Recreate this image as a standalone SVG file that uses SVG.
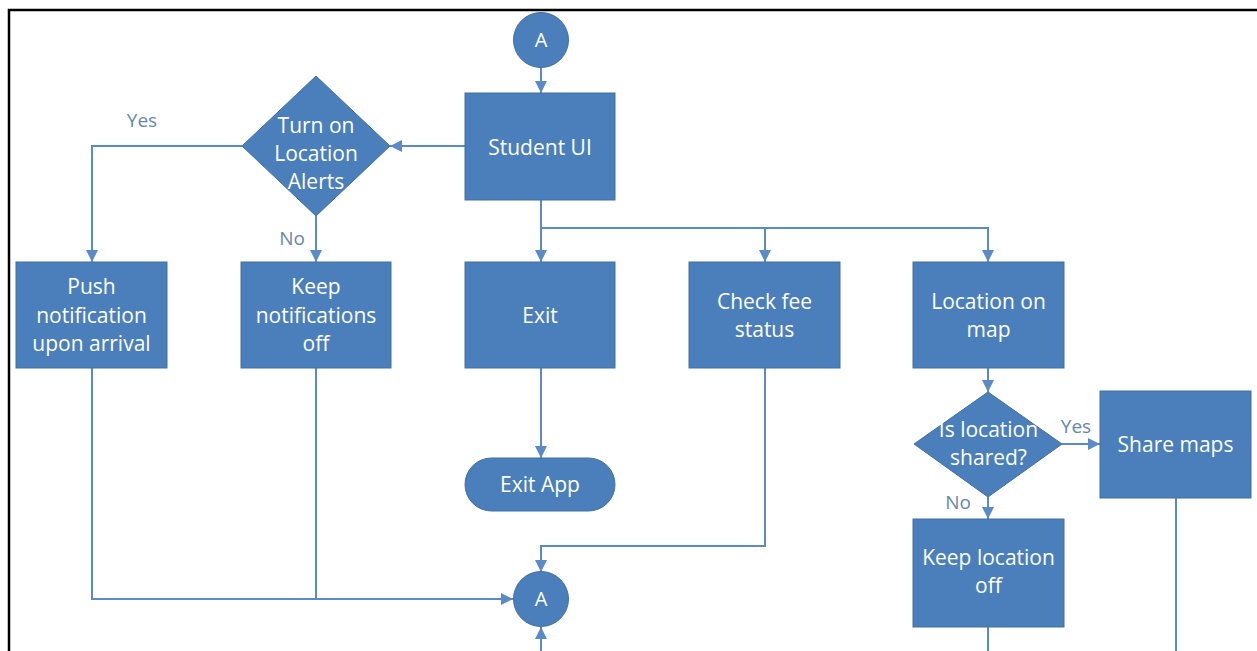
<svg xmlns="http://www.w3.org/2000/svg" width="1257" height="651" viewBox="0 0 1257 651">
<style>
.n{fill:#4a7fbc;stroke:#41709f;stroke-width:1}
.t{font-family:"Open Sans","Noto Sans",sans-serif;font-size:21px;fill:#ffffff;text-anchor:middle}
.a{font-family:"Open Sans","Noto Sans",sans-serif;font-size:20px;fill:#ffffff;text-anchor:middle}
.l{font-family:"Open Sans","Noto Sans",sans-serif;font-size:19px;fill:#6787b0;text-anchor:middle}
.c{fill:none;stroke:#5b8bc6;stroke-width:2}
</style>
<defs>
<marker id="ah" viewBox="0 0 10 10" refX="10" refY="5" markerWidth="6" markerHeight="6" orient="auto" markerUnits="strokeWidth">
<path d="M0,0 L10,5 L0,10 z" fill="#5b8bc6"/>
</marker>
</defs>
<rect x="0" y="0" width="1257" height="651" fill="#ffffff"/>
<path d="M9,651 L9,10 L1257,10" fill="none" stroke="#000000" stroke-width="2.5"/>

<g id="connectors">
<path class="c" d="M541,67 L541,93" marker-end="url(#ah)"/>
<path class="c" d="M465,146 L390,146" marker-end="url(#ah)"/>
<path class="c" d="M242,146 L92,146 L92,262" marker-end="url(#ah)"/>
<path class="c" d="M316,216 L316,262" marker-end="url(#ah)"/>
<path class="c" d="M541,200 L541,262" marker-end="url(#ah)"/>
<path class="c" d="M541,228 L765,228 L765,262" marker-end="url(#ah)"/>
<path class="c" d="M765,228 L988,228 L988,262" marker-end="url(#ah)"/>
<path class="c" d="M541,368 L541,458" marker-end="url(#ah)"/>
<path class="c" d="M988,368 L988,392" marker-end="url(#ah)"/>
<path class="c" d="M1062,444 L1100,444" marker-end="url(#ah)"/>
<path class="c" d="M988,497 L988,519" marker-end="url(#ah)"/>
<path class="c" d="M92,368 L92,599 L513,599" marker-end="url(#ah)"/>
<path class="c" d="M316,368 L316,599"/>
<path class="c" d="M765,368 L765,546 L541,546 L541,572" marker-end="url(#ah)"/>
<path class="c" d="M541,651 L541,627" marker-end="url(#ah)"/>
<path class="c" d="M988,627 L988,651"/>
<path class="c" d="M1176,498 L1176,651"/>
<text class="l" x="142" y="127">Yes</text>
<text class="l" x="292" y="245">No</text>
<text class="l" x="1076" y="433">Yes</text>
<text class="l" x="958" y="509">No</text>
</g>

<g id="a-top">
<circle class="n" cx="541" cy="40" r="27.5"/>
<text class="a" x="541" y="47">A</text>
</g>
<g id="student-ui">
<rect class="n" x="465" y="93" width="150" height="107"/>
<text class="t" x="540" y="155">Student UI</text>
</g>
<g id="turn-on-alerts">
<polygon class="n" points="316,76 390,146 316,216 242,146"/>
<text class="t" x="316" y="133">Turn on</text>
<text class="t" x="316" y="161">Location</text>
<text class="t" x="316" y="189">Alerts</text>
</g>
<g id="push-notification">
<rect class="n" x="16" y="262" width="151" height="106"/>
<text class="t" x="91.5" y="294">Push</text>
<text class="t" x="91.5" y="322.5">notification</text>
<text class="t" x="91.5" y="350.5">upon arrival</text>
</g>
<g id="keep-notifications-off">
<rect class="n" x="241" y="262" width="150" height="106"/>
<text class="t" x="316" y="294">Keep</text>
<text class="t" x="316" y="322.5">notifications</text>
<text class="t" x="316" y="350.5">off</text>
</g>
<g id="exit">
<rect class="n" x="465" y="262" width="150" height="106"/>
<text class="t" x="540" y="323">Exit</text>
</g>
<g id="check-fee">
<rect class="n" x="689" y="262" width="151" height="106"/>
<text class="t" x="764.5" y="309">Check fee</text>
<text class="t" x="764.5" y="337">status</text>
</g>
<g id="location-on-map">
<rect class="n" x="913" y="262" width="151" height="106"/>
<text class="t" x="988.5" y="309">Location on</text>
<text class="t" x="988.5" y="337">map</text>
</g>
<g id="exit-app">
<rect class="n" x="465" y="458" width="150" height="53" rx="26.5" ry="26.5"/>
<text class="t" x="540" y="492">Exit App</text>
</g>
<g id="is-location-shared">
<polygon class="n" points="988,392 1062,444 988,497 914,444"/>
<text class="t" x="988.5" y="437">Is location</text>
<text class="t" x="988.5" y="465">shared?</text>
</g>
<g id="share-maps">
<rect class="n" x="1100" y="391" width="151" height="107"/>
<text class="t" x="1175.5" y="452">Share maps</text>
</g>
<g id="keep-location-off">
<rect class="n" x="913" y="519" width="151" height="108"/>
<text class="t" x="988.5" y="565">Keep location</text>
<text class="t" x="988.5" y="593">off</text>
</g>
<g id="a-bottom">
<circle class="n" cx="541" cy="599" r="27.5"/>
<text class="a" x="541" y="606">A</text>
</g>
</svg>
